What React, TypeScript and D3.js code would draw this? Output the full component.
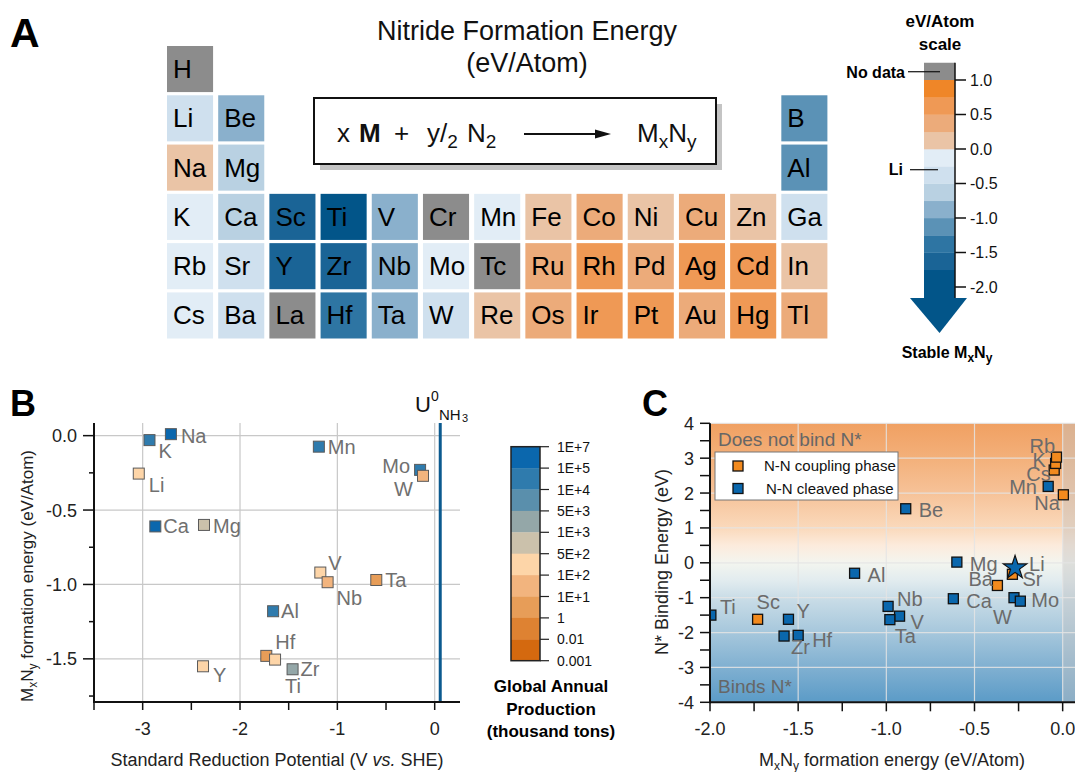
import React from "react";
import * as d3 from "d3";

const FONT = "'Liberation Sans', Arial, Helvetica, sans-serif";

// ---------- Panel A: periodic table of nitride formation energy ----------
const tableRows = [
  ["H"],
  ["Li", "Be", "", "", "", "", "", "", "", "", "", "", "B"],
  ["Na", "Mg", "", "", "", "", "", "", "", "", "", "", "Al"],
  ["K", "Ca", "Sc", "Ti", "V", "Cr", "Mn", "Fe", "Co", "Ni", "Cu", "Zn", "Ga"],
  ["Rb", "Sr", "Y", "Zr", "Nb", "Mo", "Tc", "Ru", "Rh", "Pd", "Ag", "Cd", "In"],
  ["Cs", "Ba", "La", "Hf", "Ta", "W", "Re", "Os", "Ir", "Pt", "Au", "Hg", "Tl"],
];
const elements = ["H", "Li", "Be", "B", "Na", "Mg", "Al", "K", "Ca", "Sc", "Ti", "V", "Cr", "Mn", "Fe", "Co", "Ni", "Cu", "Zn", "Ga",
  "Rb", "Sr", "Y", "Zr", "Nb", "Mo", "Tc", "Ru", "Rh", "Pd", "Ag", "Cd", "In",
  "Cs", "Ba", "La", "Hf", "Ta", "W", "Re", "Os", "Ir", "Pt", "Au", "Hg", "Tl"];
// eV/atom, null = no data
const formationEnergy = [null, -0.3, -0.89, -1.2, 0.01, -0.6, -1.18, -0.03, -0.61, -1.73, -2.0, -0.92, null, -0.07, 0.1, 0.35, 0.15, 0.3, 0.1, -0.45,
  -0.03, -0.33, -1.55, -1.58, -0.99, -0.24, null, 0.4, 0.6, 0.35, 0.6, 0.55, 0.1,
  -0.05, -0.37, null, -1.48, -0.97, -0.27, 0.15, 0.4, 0.6, 0.65, 0.4, 0.6, 0.35];
const energyBreaks = [-1.75, -1.5, -1.25, -1.0, -0.75, -0.5, -0.25, 0, 0.25, 0.5, 0.75];
const energyColors = ["#025589", "#1a6496", "#2e75a3", "#5b92b6", "#8ab0cc", "#b9d1e2", "#cfe0ee", "#e2edf6", "#eac4a6", "#ecab7a", "#ef9955", "#ef8628"];
const energyTicks = [1, 0.5, 0, -0.5, -1, -1.5, -2];
const noDataColor = "#8c8c8c";

// ---------- Panel B: formation energy vs reduction potential ----------
const bElements = ["Na", "K", "Li", "Mn", "Mo", "W", "Ca", "Mg", "V", "Nb", "Ta", "Al", "Hf", "Ti", "Zr", "Y"];
const bPotential = [-2.71, -2.93, -3.04, -1.19, -0.15, -0.12, -2.87, -2.37, -1.175, -1.1, -0.6, -1.66, -1.73, -1.64, -1.46, -2.38];
const bEnergy = [0.01, -0.03, -0.255, -0.074, -0.23, -0.27, -0.61, -0.6, -0.92, -0.985, -0.97, -1.18, -1.48, -1.505, -1.57, -1.55];
const bProduction = [2e5, 3e4, 200, 3e4, 3e4, 50, 2e5, 700, 200, 50, 2, 5e4, 2, 200, 1500, 200];
const bLabelDx = [10, 9, 10, 9, -10, -10, 8, 9, 8, 9, 9, 8, 9, 10, 8, 10];
const bLabelDy = [9, 18, 18, 7, 3, 20, 7, 8, -3, 23, 7, 7, -7, 33, 7, 16];
const bLabelEnd = ["Mo", "W"];
const uNH3 = 0.057;
const productionBreaks = [0.01, 1, 10, 100, 500, 1000, 5000, 1e4, 1e5];
const productionColors = ["#d4690f", "#de8232", "#e79d58", "#f2b47e", "#fdd5a8", "#cbc1ab", "#94a7a8", "#5a8fac", "#2f7bad", "#0b67ad"];
const productionTicks = ["1E+7", "1E+5", "1E+4", "5E+3", "1E+3", "5E+2", "1E+2", "1E+1", "1", "0.01", "0.001"];

// ---------- Panel C: N* binding energy vs formation energy ----------
const cElements = ["Cs", "K", "Rb", "Mn", "Na", "Be", "Mg", "Sr", "Li", "Ba", "Al", "Ca", "W", "Mo", "Nb", "V", "Ta", "Ti", "Sc", "Y", "Zr", "Hf"];
const cFormation = [-0.048, -0.04, -0.035, -0.082, 0.004, -0.89, -0.6, -0.285, -0.27, -0.37, -1.18, -0.62, -0.276, -0.24, -0.99, -0.925, -0.98, -1.995, -1.73, -1.555, -1.58, -1.5];
const cBinding = [2.66, 2.85, 3.03, 2.19, 1.95, 1.55, 0.02, -0.33, -0.14, -0.65, -0.3, -1.03, -1.0, -1.1, -1.25, -1.53, -1.63, -1.5, -1.62, -1.62, -2.1, -2.08];
const cPhase = ["coupling", "coupling", "coupling", "cleaved", "coupling", "cleaved", "cleaved", "coupling", "cleaved", "coupling", "cleaved", "cleaved",
  "cleaved", "cleaved", "cleaved", "cleaved", "cleaved", "cleaved", "coupling", "cleaved", "cleaved", "cleaved"];
const cLabelDx = [-28, -23, -27, -39, -29, 13, 13, 10, 14, -29, 13, 13, -21, 11, 9, 11, 5, 9, -1, 8, 7, 14];
const cLabelDy = [11, 4, -4, 8, 15, 8, 9, 12, 3, 1, 9, 9, 26, 6, 0, 13, 23, -1, -10, -1, 18, 12];
const phaseColors = { coupling: "#f28a1e", cleaved: "#0a67ad" };

const minus = (s: string) => s.replace("\u2212", "-");

const PanelA = () => {
  const col = d3.scaleBand<number>().domain(d3.range(13)).range([167, 827.4]).paddingInner(0.1);
  const row = d3.scaleBand<number>().domain(d3.range(6)).range([46, 338.5]).paddingInner(0.065);
  const color = d3.scaleThreshold<number, string>().domain(energyBreaks).range(energyColors);
  const cells: any[] = [];
  tableRows.forEach((r, ri) =>
    r.forEach((sym, ci) => {
      if (!sym) return;
      const e = formationEnergy[elements.indexOf(sym)];
      cells.push({ sym, ri, ci, e });
    })
  );

  // colour bar
  const yA = d3.scaleLinear().domain([1, -2]).range([80, 287]);
  const barX = 924, barW = 31, barBottom = -2.16;
  const bins = energyColors.map((c, i) => ({
    c,
    top: i === energyColors.length - 1 ? 1 : energyBreaks[i],
    bottom: i === 0 ? barBottom : energyBreaks[i - 1],
  }));
  const cx = barX + barW / 2;

  return (
    <g fontFamily={FONT}>
      <text x={10} y={47} fontSize={41} fontWeight="bold">A</text>
      <text x={527} y={40} fontSize={27} textAnchor="middle" fill="#111">Nitride Formation Energy</text>
      <text x={527} y={72} fontSize={27} textAnchor="middle" fill="#111">(eV/Atom)</text>

      {cells.map((d) => (
        <g key={d.sym}>
          <rect x={col(d.ci)} y={row(d.ri)} width={col.bandwidth()} height={row.bandwidth()}
            fill={d.e === null ? noDataColor : color(d.e)} />
          <text x={(col(d.ci) as number) + 6} y={(row(d.ri) as number) + row.bandwidth() / 2 + 9}
            fontSize={26} fill="#000">{d.sym}</text>
        </g>
      ))}

      {/* reaction box */}
      <rect x={320} y={104} width={402} height={66} fill="#c4c4c4" />
      <rect x={314} y={98} width={402} height={66} fill="#fff" stroke="#111" strokeWidth={2} />
      <text y={142} fontSize={26} fill="#111">
        <tspan x={337}>x</tspan>
        <tspan x={359} fontWeight="bold">M</tspan>
        <tspan x={394}>+</tspan>
        <tspan x={427}>y/</tspan>
        <tspan dy={6} fontSize={19}>2</tspan>
        <tspan x={467} dy={-6}>N</tspan>
        <tspan dy={6} fontSize={19}>2</tspan>
      </text>
      <line x1={524} y1={134} x2={600} y2={134} stroke="#111" strokeWidth={2} />
      <path d="M595,129.5 L611,134 L595,138.5 Z" fill="#111" />
      <text y={142} fontSize={26} fill="#111">
        <tspan x={637}>M</tspan>
        <tspan dy={6} fontSize={19}>x</tspan>
        <tspan dy={-6}>N</tspan>
        <tspan dy={6} fontSize={19}>y</tspan>
      </text>

      {/* colour scale */}
      <text x={940} y={27} fontSize={17} fontWeight="bold" textAnchor="middle">eV/Atom</text>
      <text x={940} y={50} fontSize={17} fontWeight="bold" textAnchor="middle">scale</text>
      <rect x={barX} y={yA(1.25)} width={barW} height={yA(1) - yA(1.25)} fill={noDataColor} />
      {bins.map((b, i) => (
        <rect key={i} x={barX} y={yA(b.top)} width={barW} height={yA(b.bottom) - yA(b.top) + 0.3} fill={b.c} />
      ))}
      <path d={`M910,${yA(barBottom)} L967,${yA(barBottom)} L${cx},333 Z`} fill={energyColors[0]} />
      <line x1={barX + barW} x2={barX + barW} y1={yA(1.25)} y2={yA(barBottom)} stroke="#111" strokeWidth={1.5} />
      {energyTicks.map((t) => (
        <g key={t}>
          <line x1={barX + barW} x2={barX + barW + 11} y1={yA(t)} y2={yA(t)} stroke="#111" strokeWidth={1.5} />
          <text x={barX + barW + 15} y={yA(t)} dy="0.36em" fontSize={16} fill="#111">{minus(d3.format(".1f")(t))}</text>
        </g>
      ))}
      <text x={905} y={78} fontSize={16} fontWeight="bold" textAnchor="end">No data</text>
      <line x1={908} x2={940} y1={yA(1.12)} y2={yA(1.12)} stroke="#111" strokeWidth={1.2} />
      <text x={903} y={175} fontSize={16} fontWeight="bold" textAnchor="end">Li</text>
      <line x1={910} x2={938} y1={yA(-0.3)} y2={yA(-0.3)} stroke="#111" strokeWidth={1.2} />
      <text x={947} y={358} fontSize={16} fontWeight="bold" textAnchor="middle">
        Stable M<tspan dy={4} fontSize={12}>x</tspan><tspan dy={-4}>N</tspan><tspan dy={4} fontSize={12}>y</tspan>
      </text>
    </g>
  );
};

const PanelB = () => {
  const x = d3.scaleLinear().domain([-3.5, 0.26]).range([94, 460]);
  const y = d3.scaleLinear().domain([0.085, -1.79]).range([423, 702]);
  const color = d3.scaleThreshold<number, string>().domain(productionBreaks).range(productionColors);
  const xMajor = [-3, -2, -1, 0];
  const xMinor = [-3.5, -2.5, -1.5, -0.5];
  const yMajor = [0, -0.5, -1, -1.5];
  const yMinor = [-0.25, -0.75, -1.25, -1.75];
  const [x0, x1] = x.range();
  const [y0, y1] = y.range();
  const s = 11;

  // production colour bar
  const cb = d3.scalePoint<string>().domain(productionTicks).range([446.7, 660.7]);
  const cbX = 511, cbW = 29;
  const binColors = productionColors.slice().reverse();

  return (
    <g fontFamily={FONT}>
      <text x={10} y={416} fontSize={36} fontWeight="bold">B</text>
      {xMajor.map((t) => <line key={t} x1={x(t)} x2={x(t)} y1={y0} y2={y1} stroke="#c8c8c8" strokeWidth={1.2} />)}
      {yMajor.map((t) => <line key={t} x1={x0} x2={x1} y1={y(t)} y2={y(t)} stroke="#c8c8c8" strokeWidth={1.2} />)}
      <line x1={x(uNH3)} x2={x(uNH3)} y1={y0} y2={y1} stroke="#0b5a8f" strokeWidth={3} />
      <line x1={x0} x2={x0} y1={y0} y2={y1 + 1} stroke="#111" strokeWidth={2} />
      <line x1={x0} x2={x1} y1={y1} y2={y1} stroke="#111" strokeWidth={2} />
      {xMajor.concat(xMinor).map((t) => <line key={t} x1={x(t)} x2={x(t)} y1={y1} y2={y1 + 8} stroke="#111" strokeWidth={1.5} />)}
      {yMajor.map((t) => <line key={t} x1={x0 - 11} x2={x0} y1={y(t)} y2={y(t)} stroke="#111" strokeWidth={1.5} />)}
      {yMinor.map((t) => <line key={t} x1={x0 - 5} x2={x0} y1={y(t)} y2={y(t)} stroke="#111" strokeWidth={1.5} />)}
      {xMajor.map((t) => (
        <text key={t} x={x(t)} y={735} fontSize={18} textAnchor="middle" fill="#222">{minus(d3.format("d")(t))}</text>
      ))}
      {yMajor.map((t) => (
        <text key={t} x={77} y={y(t)} dy="0.36em" fontSize={18} textAnchor="end" fill="#222">{minus(d3.format(".1f")(t))}</text>
      ))}
      <text x={277} y={766} fontSize={18} textAnchor="middle" fill="#222">
        Standard Reduction Potential (V <tspan fontStyle="italic">vs.</tspan> SHE)
      </text>
      <text transform="translate(33,576) rotate(-90)" fontSize={17} textAnchor="middle" fill="#222">
        M<tspan dy={4} fontSize={12}>x</tspan><tspan dy={-4}>N</tspan><tspan dy={4} fontSize={12}>y</tspan>
        <tspan dy={-4}> formation energy (eV/Atom)</tspan>
      </text>
      <text x={415} y={412} fontSize={22} fill="#111">U</text>
      <text x={431} y={401} fontSize={14} fill="#111">0</text>
      <text x={439} y={420} fontSize={15} fill="#111">NH</text>
      <text x={462} y={422} fontSize={11} fill="#111">3</text>

      {bElements.map((el, i) => {
        const px = x(bPotential[i]);
        const py = y(bEnergy[i]);
        const end = bLabelEnd.includes(el);
        return (
          <g key={el}>
            <rect x={px - s / 2} y={py - s / 2} width={s} height={s} fill={color(bProduction[i])} stroke="#5a5a5a" strokeWidth={1} />
            <text x={px + bLabelDx[i]} y={py + bLabelDy[i]} fontSize={20} fill="#707070" textAnchor={end ? "end" : "start"}>{el}</text>
          </g>
        );
      })}

      {binColors.map((c, i) => (
        <rect key={i} x={cbX} y={cb(productionTicks[i])} width={cbW}
          height={(cb(productionTicks[i + 1]) as number) - (cb(productionTicks[i]) as number) + 0.3} fill={c} />
      ))}
      <rect x={cbX} y={cb(productionTicks[0])} width={cbW}
        height={(cb(productionTicks[productionTicks.length - 1]) as number) - (cb(productionTicks[0]) as number)}
        fill="none" stroke="#222" strokeWidth={1.5} />
      {productionTicks.map((t) => (
        <g key={t}>
          <line x1={cbX + cbW} x2={cbX + cbW + 9} y1={cb(t)} y2={cb(t)} stroke="#222" strokeWidth={1.2} />
          <text x={557} y={cb(t)} dy="0.36em" fontSize={14} fill="#111">{t}</text>
        </g>
      ))}
      <text x={551} y={692} fontSize={17} fontWeight="bold" textAnchor="middle">Global Annual</text>
      <text x={551} y={715} fontSize={17} fontWeight="bold" textAnchor="middle">Production</text>
      <text x={551} y={737} fontSize={17} fontWeight="bold" textAnchor="middle">(thousand tons)</text>
    </g>
  );
};

const PanelC = () => {
  const x = d3.scaleLinear().domain([-2, 0.07]).range([710, 1075]);
  const y = d3.scaleLinear().domain([4, -4]).range([423.3, 702.3]);
  const [x0, x1] = x.range();
  const [y0, y1] = y.range();
  const xMajor = [-2, -1.5, -1, -0.5, 0];
  const xMinor = [-1.75, -1.25, -0.75, -0.25];
  const yMajor = d3.range(4, -5, -1);
  const yMinor = d3.range(3.5, -4, -1);
  const stops: [number, string][] = [[4, "#f0a062"], [3, "#f3b07a"], [2, "#f6c298"], [1, "#fad9bb"], [0.5, "#fcebdc"], [0, "#f3f5ef"],
    [-0.5, "#e2ecef"], [-1, "#cadde7"], [-2, "#a6c7dc"], [-3, "#80b0d1"], [-4, "#5b9bc7"]];
  const s = 10;
  const star = d3.symbol().type(d3.symbolStar).size(170)();

  return (
    <g fontFamily={FONT}>
      <defs>
        <linearGradient id="cbg" gradientUnits="userSpaceOnUse" x1={0} x2={0} y1={y0} y2={y1}>
          {stops.map(([v, c]) => <stop key={v} offset={(4 - v) / 8} stopColor={c} />)}
        </linearGradient>
        <clipPath id="cclip"><rect x={x0} y={y0} width={x1 - x0} height={y1 - y0} /></clipPath>
      </defs>
      <text x={642} y={416} fontSize={36} fontWeight="bold">C</text>
      <rect x={x0} y={y0} width={x1 - x0} height={y1 - y0} fill="url(#cbg)" />
      <rect x={x(0)} y={y0} width={x1 - x(0)} height={y1 - y0} fill="rgb(196,196,196)" fillOpacity={0.46} />
      {xMajor.map((t) => <line key={t} x1={x(t)} x2={x(t)} y1={y0} y2={y1} stroke="#e4e4e4" strokeOpacity={0.85} strokeWidth={1.2} />)}
      {yMajor.map((t) => <line key={t} x1={x0} x2={x1} y1={y(t)} y2={y(t)} stroke="#e4e4e4" strokeOpacity={0.85} strokeWidth={1.2} />)}
      <text x={718} y={446} fontSize={19} fill="#666">Does not bind N*</text>
      <text x={718} y={693} fontSize={19} fill="#666">Binds N*</text>

      <g clipPath="url(#cclip)">
        {cElements.map((el, i) => {
          const px = x(cFormation[i]);
          const py = y(cBinding[i]);
          const fill = phaseColors[cPhase[i] as "coupling" | "cleaved"];
          return el === "Li" ? (
            <path key={el} d={star as string} transform={`translate(${px},${py})`} fill={fill} stroke="#111" strokeWidth={1.2} />
          ) : (
            <rect key={el} x={px - s / 2} y={py - s / 2} width={s} height={s} fill={fill} stroke="#111" strokeWidth={1.3} />
          );
        })}
      </g>
      {cElements.map((el, i) => (
        <text key={el} x={x(cFormation[i]) + cLabelDx[i]} y={y(cBinding[i]) + cLabelDy[i]} fontSize={20} fill="#6b6b6b">{el}</text>
      ))}

      {/* legend */}
      <rect x={715} y={452} width={183} height={48} fill="#fff" stroke="#777" strokeWidth={1} />
      <rect x={733} y={461} width={s} height={s} fill={phaseColors.coupling} stroke="#111" strokeWidth={1.3} />
      <text x={764} y={471} fontSize={15} fill="#111">N-N coupling phase</text>
      <rect x={733} y={483.5} width={s} height={s} fill={phaseColors.cleaved} stroke="#111" strokeWidth={1.3} />
      <text x={766} y={493.5} fontSize={15} fill="#111">N-N cleaved phase</text>

      <line x1={x0} x2={x0} y1={y0} y2={y1 + 1} stroke="#111" strokeWidth={2} />
      <line x1={x0} x2={x1} y1={y1} y2={y1} stroke="#111" strokeWidth={2} />
      {xMajor.concat(xMinor).map((t) => <line key={t} x1={x(t)} x2={x(t)} y1={y1} y2={y1 + 9} stroke="#111" strokeWidth={1.5} />)}
      {yMajor.concat(yMinor).map((t) => <line key={t} x1={x0 - 10} x2={x0} y1={y(t)} y2={y(t)} stroke="#111" strokeWidth={1.5} />)}
      {xMajor.map((t) => (
        <text key={t} x={x(t)} y={735} fontSize={18} textAnchor="middle" fill="#222">{minus(d3.format(".1f")(t))}</text>
      ))}
      {yMajor.map((t) => (
        <text key={t} x={694} y={y(t)} dy="0.36em" fontSize={18} textAnchor="end" fill="#222">{minus(d3.format("d")(t))}</text>
      ))}
      <text x={892} y={766} fontSize={18} textAnchor="middle" fill="#222">
        M<tspan dy={4} fontSize={12}>x</tspan><tspan dy={-4}>N</tspan><tspan dy={4} fontSize={12}>y</tspan>
        <tspan dy={-4}> formation energy (eV/Atom)</tspan>
      </text>
      <text transform="translate(668,562) rotate(-90)" fontSize={18} textAnchor="middle" fill="#222">N* Binding Energy (eV)</text>
    </g>
  );
};

export default function App() {
  return (
    <svg width={1075} height={772} style={{ position: "absolute", left: 0, top: 0, background: "#fff" }}>
      <rect width={1075} height={772} fill="#fff" />
      <PanelA />
      <PanelB />
      <PanelC />
    </svg>
  );
}
